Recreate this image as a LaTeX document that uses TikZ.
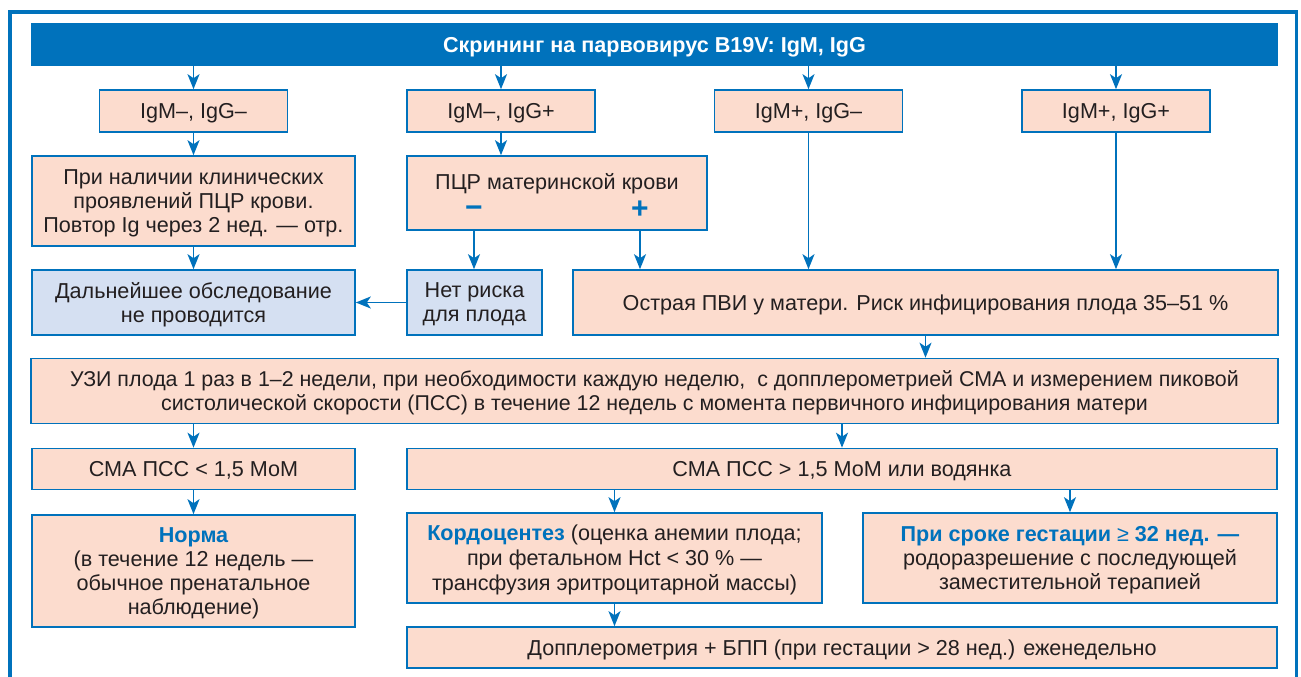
\documentclass[tikz,border=0pt]{standalone}
\usepackage{fontspec}
\setmainfont{Liberation Sans}
\usetikzlibrary{arrows.meta}
\definecolor{bblue}{RGB}{0,114,188}
\definecolor{pinkf}{RGB}{252,220,206}
\definecolor{lblue}{RGB}{213,224,242}
\definecolor{tdark}{RGB}{35,31,32}
\newcommand{\hlt}[1]{{\color{bblue}\bfseries #1}}
\begin{document}
\begin{tikzpicture}[x=1pt,y=-1pt,
  box/.style={draw=bblue, line width=1.6pt, fill=pinkf, inner sep=0pt, align=center, text=tdark, text depth=0pt, font=\fontsize{21.6}{24}\selectfont},
  bbox/.style={box, fill=lblue},
  arr/.style={draw=bblue, line width=1.8pt, -{Stealth[length=15pt,width=12pt,inset=4pt]}},
  sign/.style={text=bblue, font=\bfseries\fontsize{30}{30}\selectfont, inner sep=0pt}]
\useasboundingbox (0,0) rectangle (1301,677);
% outer frame
\draw[bblue, line width=3.5pt] (10,690) -- (10,12) -- (1296.5,12) -- (1296.5,690);
% header
\node[fill=bblue, inner sep=0pt, minimum width=1247pt, minimum height=43pt, text=white, text depth=0pt, font=\bfseries\fontsize{21.6}{24}\selectfont] (hdr) at (654.5,44.5) {Скрининг на парвовирус B19V: IgM, IgG};
% row 1
\node[box, minimum width=188pt, minimum height=42pt] (a1) at (193.5,111) {IgM–, IgG–};
\node[box, minimum width=188pt, minimum height=42pt] (a2) at (501,111) {IgM–, IgG+};
\node[box, minimum width=188pt, minimum height=42pt] (a3) at (808.5,111) {IgM+, IgG–};
\node[box, minimum width=188pt, minimum height=42pt] (a4) at (1116,111) {IgM+, IgG+};
% row 2
\node[box, minimum width=323pt, minimum height=90pt] (b1) at (193.5,201) {При наличии клинических\\проявлений ПЦР крови.\\Повтор Ig через 2 нед. — отр.};
\node[box, minimum width=300pt, minimum height=74pt] (pcr) at (557,193) {};
\node[inner sep=0pt, text=tdark, text depth=0pt, font=\fontsize{21.6}{24}\selectfont] (pcrt) at (557,181) {ПЦР материнской крови};
\node[sign] (pminus) at (474,212) {−};
\node[sign] (pplus) at (640,210) {+};
% row 3
\node[bbox, minimum width=323pt, minimum height=65pt] (c1) at (193.5,302.5) {Дальнейшее обследование\\не проводится};
\node[bbox, minimum width=135pt, minimum height=65pt] (net) at (474.5,302.5) {Нет риска\\для плода};
\node[box, minimum width=705pt, minimum height=65pt] (ostr) at (925.5,302.5) {Острая ПВИ у матери. Риск инфицирования плода 35–51 \%};
% row 4
\node[box, minimum width=1247pt, minimum height=65pt, font=\fontsize{21.4}{24}\selectfont] (uzi) at (654.5,391) {УЗИ плода 1 раз в 1–2 недели, при необходимости каждую неделю,\ \ с допплерометрией СМА и измерением пиковой\\систолической скорости (ПСС) в течение 12 недель с момента первичного инфицирования матери};
% row 5
\node[box, minimum width=323pt, minimum height=41pt] (sma1) at (193.5,469) {СМА ПСС < 1,5 МоМ};
\node[box, minimum width=870pt, minimum height=41pt] (sma2) at (842,469) {СМА ПСС > 1,5 МоМ или водянка};
% row 6
\node[box, minimum width=323pt, minimum height=112pt] (norma) at (193.5,571) {\hlt{Норма}\\(в течение 12 недель —\\обычное пренатальное\\наблюдение)};
\node[box, minimum width=415pt, minimum height=90pt, font=\fontsize{21.6}{25}\selectfont] (kord) at (614.5,558) {\hlt{Кордоцентез} (оценка анемии плода;\\при фетальном Hct < 30 \% —\\трансфузия эритроцитарной массы)};
\node[box, minimum width=414pt, minimum height=90pt] (srok) at (1070,558) {\hlt{При сроке гестации {\mdseries ≥} 32 нед. —}\\родоразрешение с последующей\\заместительной терапией};
% row 7
\node[box, minimum width=870pt, minimum height=41pt] (dopp) at (842,647.5) {Допплерометрия + БПП (при гестации > 28 нед.) еженедельно};
% connectors
\draw[arr] (hdr.south -| a1.north) -- (a1.north);
\draw[arr] (hdr.south -| a2.north) -- (a2.north);
\draw[arr] (hdr.south -| a3.north) -- (a3.north);
\draw[arr] (hdr.south -| a4.north) -- (a4.north);
\draw[arr] (a1.south) -- (b1.north);
\draw[arr] (b1.south) -- (c1.north);
\draw[arr] (a2.south) -- (a2.south |- pcr.north);
\draw[arr] (pcr.south -| pminus) -- (net.north -| pminus);
\draw[arr] (pcr.south -| pplus) -- (ostr.north -| pplus);
\draw[arr] (net.west) -- (c1.east);
\draw[arr] (a3.south) -- (a3.south |- ostr.north);
\draw[arr] (a4.south) -- (a4.south |- ostr.north);
\draw[arr] (ostr.south) -- (ostr.south |- uzi.north);
\draw[arr] (uzi.south -| sma1.north) -- (sma1.north);
\draw[arr] (uzi.south -| sma2.north) -- (sma2.north);
\draw[arr] (sma1.south) -- (norma.north);
\draw[arr] (sma2.south -| kord.north) -- (kord.north);
\draw[arr] (sma2.south -| srok.north) -- (srok.north);
\draw[arr] (kord.south) -- (kord.south |- dopp.north);
\end{tikzpicture}
\end{document}
